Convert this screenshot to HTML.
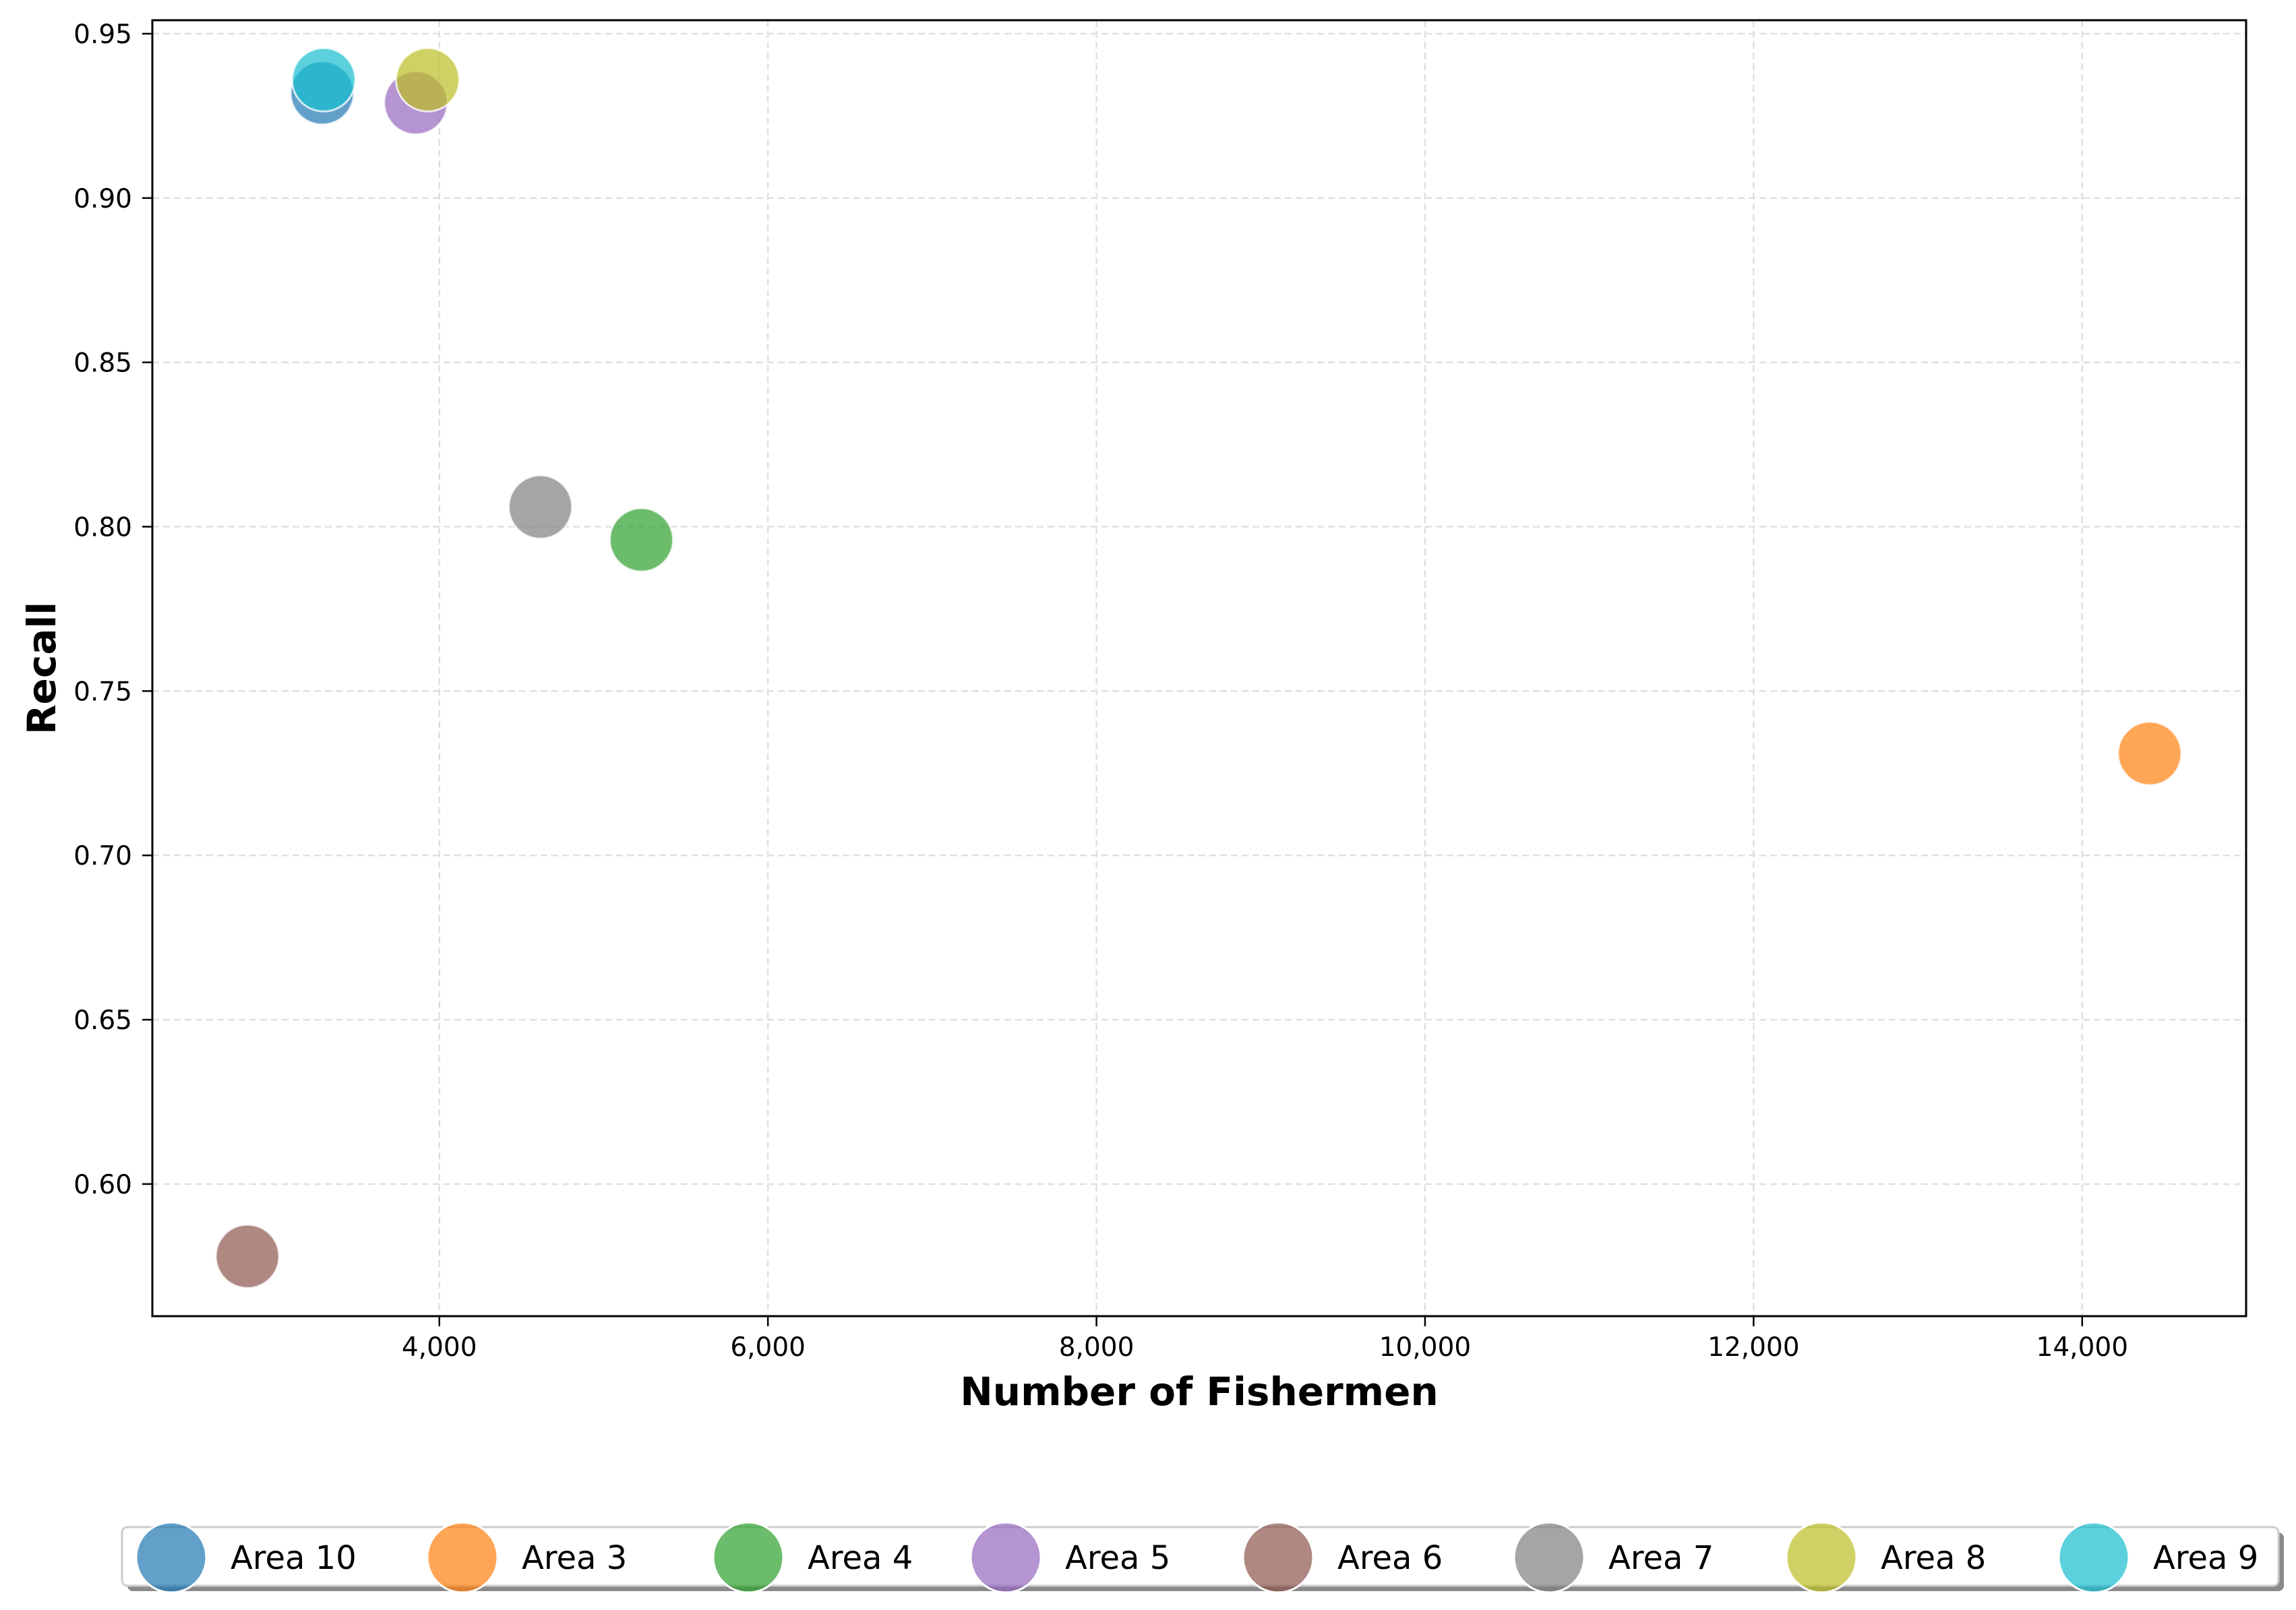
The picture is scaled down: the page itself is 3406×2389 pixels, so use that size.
<!DOCTYPE html>
<html><head><meta charset="utf-8"><style>
body{margin:0;background:#fff;}
svg text{font-family:"DejaVu Sans","Liberation Sans",sans-serif;}
</style></head><body>
<svg id="chart" width="3406" height="2384" viewBox="0 0 3406 2384" xmlns="http://www.w3.org/2000/svg">
<rect width="3406" height="2384" fill="#fff"/>
<g id="grid"></g><g id="marks"></g><g id="axes"></g><g id="legend"></g>
</svg>
<script>
const categories = ["Area 10","Area 3","Area 4","Area 5","Area 6","Area 7","Area 8","Area 9"];
const fishermen = [3287, 14411, 5230, 3857, 2832, 4615, 3929, 3296];
const recall = [0.932, 0.731, 0.796, 0.929, 0.578, 0.806, 0.936, 0.936];
const colors = ["#1f77b4","#ff7f0e","#2ca02c","#9467bd","#8c564b","#7f7f7f","#bcbd22","#17becf"];
const xTicks = [4000,6000,8000,10000,12000,14000];
const xTickLabels = ["4,000","6,000","8,000","10,000","12,000","14,000"];
const yTicks = [0.60,0.65,0.70,0.75,0.80,0.85,0.90,0.95];
const yTickLabels = ["0.60","0.65","0.70","0.75","0.80","0.85","0.90","0.95"];

const L=226,R=3332,T=30,B=1953;
const xMin=2253,xMax=14998,yMin=0.5598,yMax=0.9541;
const xs=v=>L+(v-xMin)/(xMax-xMin)*(R-L);
const ys=v=>B-(v-yMin)/(yMax-yMin)*(B-T);
const NS="http://www.w3.org/2000/svg";
function mk(tag,attrs,parent){const e=document.createElementNS(NS,tag);for(const k in attrs)e.setAttribute(k,attrs[k]);parent.appendChild(e);return e;}
const grid=document.getElementById('grid'),marks=document.getElementById('marks'),axes=document.getElementById('axes'),legend=document.getElementById('legend');

xTicks.forEach((t,i)=>{const x=xs(t);
 const g=mk('line',{x1:x,x2:x,y1:T,y2:B,stroke:'#e0e0e0','stroke-width':2.5,'stroke-dasharray':'10,6'},grid);
 
 
 mk('line',{x1:x,x2:x,y1:B,y2:B+15,stroke:'#000','stroke-width':2.5},axes);
 const tx=mk('text',{x:x,y:2012,'font-size':39,'text-anchor':'middle'},axes);tx.textContent=xTickLabels[i];
 
 
});
yTicks.forEach((t,i)=>{const y=ys(t);
 const g=mk('line',{x1:L,x2:R,y1:y,y2:y,stroke:'#e0e0e0','stroke-width':2.5,'stroke-dasharray':'10,6'},grid);
 
 
 mk('line',{x1:L-15,x2:L,y1:y,y2:y,stroke:'#000','stroke-width':2.5},axes);
 const tx=mk('text',{x:196,y:y+14,'font-size':39,'text-anchor':'end'},axes);tx.textContent=yTickLabels[i];
 
 
});
const frame=mk('rect',{x:L,y:T,width:R-L,height:B-T,fill:'none',stroke:'#000','stroke-width':3},axes);


const xl=mk('text',{x:(L+R)/2,y:2085,'font-size':58,'font-weight':'bold','text-anchor':'middle'},axes);xl.textContent='Number of Fishermen';


const yl=mk('text',{x:0,y:0,'font-size':58,'font-weight':'bold','text-anchor':'middle',transform:`translate(82,${(T+B)/2}) rotate(-90)`},axes);yl.textContent='Recall';



categories.forEach((c,i)=>{
 const p=mk('circle',{cx:xs(fishermen[i]),cy:ys(recall[i]),r:47,fill:colors[i],'fill-opacity':0.7,stroke:'#fff','stroke-opacity':0.75,'stroke-width':3},marks);
 
 
});

const sh=mk('rect',{x:189,y:2274,width:3199,height:87,rx:8,fill:'#8a8a8a'},legend);


const box=mk('rect',{x:181,y:2266,width:3199,height:87,rx:8,fill:'#fff',stroke:'#ccc','stroke-width':3},legend);


const lx=[254,686,1110,1492,1896,2298,2702,3106];
categories.forEach((c,i)=>{
 const m=mk('circle',{cx:lx[i],cy:2311,r:52,fill:colors[i],'fill-opacity':0.7,stroke:'#fff','stroke-width':3},legend);
 
 
 const t=mk('text',{x:lx[i]+88,y:2328,'font-size':48},legend);t.textContent=c;
 
 
});
</script>
</body></html>
